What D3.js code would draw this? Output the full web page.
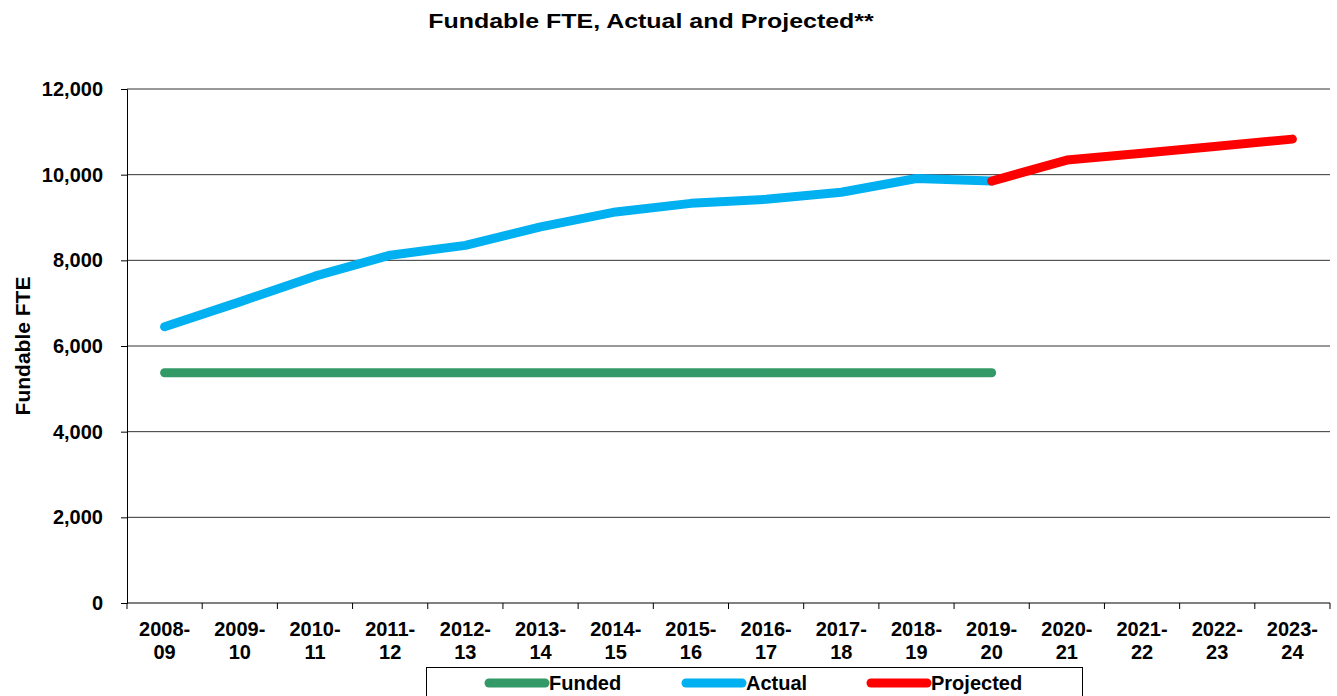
<!DOCTYPE html>
<html>
<head>
<meta charset="utf-8">
<script src="https://cdn.jsdelivr.net/npm/d3@7/dist/d3.min.js"></script>
<style>
  body { margin: 0; background: #fff; }
  svg { display: block; font-family: "Liberation Sans", Arial, sans-serif; font-weight: bold; }
</style>
</head>
<body>
<svg id="chart" width="1337" height="696"></svg>
<script>
const categories = ["2008-09", "2009-10", "2010-11", "2011-12", "2012-13", "2013-14", "2014-15", "2015-16",
  "2016-17", "2017-18", "2018-19", "2019-20", "2020-21", "2021-22", "2022-23", "2023-24"];
const funded = [5375, 5375, 5375, 5375, 5375, 5375, 5375, 5375, 5375, 5375, 5375, 5375, null, null, null, null];
const actual = [6450, 7030, 7630, 8120, 8350, 8780, 9130, 9330, 9425, 9590, 9910, 9850, null, null, null, null];
const projected = [null, null, null, null, null, null, null, null, null, null, null, 9850, 10340, 10500, 10665, 10830];
const yTicks = [0, 2000, 4000, 6000, 8000, 10000, 12000];
const seriesNames = ["Funded", "Actual", "Projected"];
const seriesColors = ["#339966", "#00b0f0", "#ff0000"];

const width = 1337, height = 696;
const margin = { top: 89, right: 7, bottom: 93, left: 127 };

const svg = d3.select("#chart");

const x = d3.scaleBand()
  .domain(categories)
  .range([margin.left, width - margin.right])
  .padding(0);
const y = d3.scaleLinear()
  .domain([0, 12000])
  .range([height - margin.bottom, margin.top]);

// title (the original is a bit wider than Arial, so stretch it)
svg.append("text")
  .attr("transform", "translate(651,28) scale(1.2,1)")
  .attr("text-anchor", "middle")
  .style("font-size", "20.8px")
  .text("Fundable FTE, Actual and Projected**");

// gridlines
svg.append("g")
  .selectAll("line")
  .data(yTicks.slice(1))
  .enter()
  .append("line")
  .attr("x1", margin.left)
  .attr("x2", width - margin.right)
  .attr("y1", d => y(d))
  .attr("y2", d => y(d))
  .attr("stroke", "#333")
  .attr("stroke-width", 1);

// y axis
const yAxis = svg.append("g")
  .attr("transform", `translate(${margin.left},0)`)
  .call(d3.axisLeft(y).tickValues(yTicks).tickFormat(d3.format(",")).tickSize(6).tickPadding(18));
yAxis.select(".domain").attr("stroke", "#000");
yAxis.selectAll("text")
  .style("font-size", "20px")
  .style("font-family", "Liberation Sans, Arial, sans-serif")
  .style("font-weight", "bold")
  .attr("fill", "#000");

// x axis line and ticks at band edges
const xg = svg.append("g");
xg.append("line")
  .attr("x1", margin.left)
  .attr("x2", width - margin.right)
  .attr("y1", y(0))
  .attr("y2", y(0))
  .attr("stroke", "#000");
const edges = categories.map(c => x(c)).concat([x(categories[categories.length - 1]) + x.bandwidth()]);
xg.selectAll("line.tick")
  .data(edges)
  .enter()
  .append("line")
  .attr("class", "tick")
  .attr("x1", d => d)
  .attr("x2", d => d)
  .attr("y1", y(0))
  .attr("y2", y(0) + 6)
  .attr("stroke", "#000");
const xl = xg.selectAll("text")
  .data(categories)
  .enter()
  .append("text")
  .attr("text-anchor", "middle")
  .style("font-size", "20px");
xl.append("tspan")
  .attr("x", d => x(d) + x.bandwidth() / 2)
  .attr("y", 636)
  .text(d => d.split("-")[0] + "-");
xl.append("tspan")
  .attr("x", d => x(d) + x.bandwidth() / 2)
  .attr("y", 659)
  .text(d => d.split("-")[1]);

// y axis title
svg.append("text")
  .attr("transform", `translate(30,${(margin.top + height - margin.bottom) / 2}) rotate(-90)`)
  .attr("text-anchor", "middle")
  .style("font-size", "21px")
  .text("Fundable FTE");

// series lines
const line = d3.line()
  .defined(d => d.v != null)
  .x(d => x(d.c) + x.bandwidth() / 2)
  .y(d => y(d.v));

[funded, actual, projected].forEach((vals, i) => {
  svg.append("path")
    .datum(categories.map((c, j) => ({ c, v: vals[j] })))
    .attr("fill", "none")
    .attr("stroke", seriesColors[i])
    .attr("stroke-width", 9)
    .attr("stroke-linecap", "round")
    .attr("stroke-linejoin", "round")
    .attr("d", line);
});

// legend
const legend = svg.append("g");
legend.append("rect")
  .attr("x", 426.5)
  .attr("y", 667.5)
  .attr("width", 656)
  .attr("height", 40)
  .attr("fill", "#fff")
  .attr("stroke", "#000");
const legendX = [489, 686, 871];
const item = legend.selectAll("g")
  .data(seriesNames)
  .enter()
  .append("g")
  .attr("transform", (d, i) => `translate(${legendX[i]},683)`);
item.append("line")
  .attr("x1", 0)
  .attr("x2", 56)
  .attr("stroke", (d, i) => seriesColors[i])
  .attr("stroke-width", 9)
  .attr("stroke-linecap", "round");
item.append("text")
  .attr("x", 60)
  .attr("y", 7)
  .style("font-size", "20px")
  .text(d => d);
</script>
</body>
</html>
